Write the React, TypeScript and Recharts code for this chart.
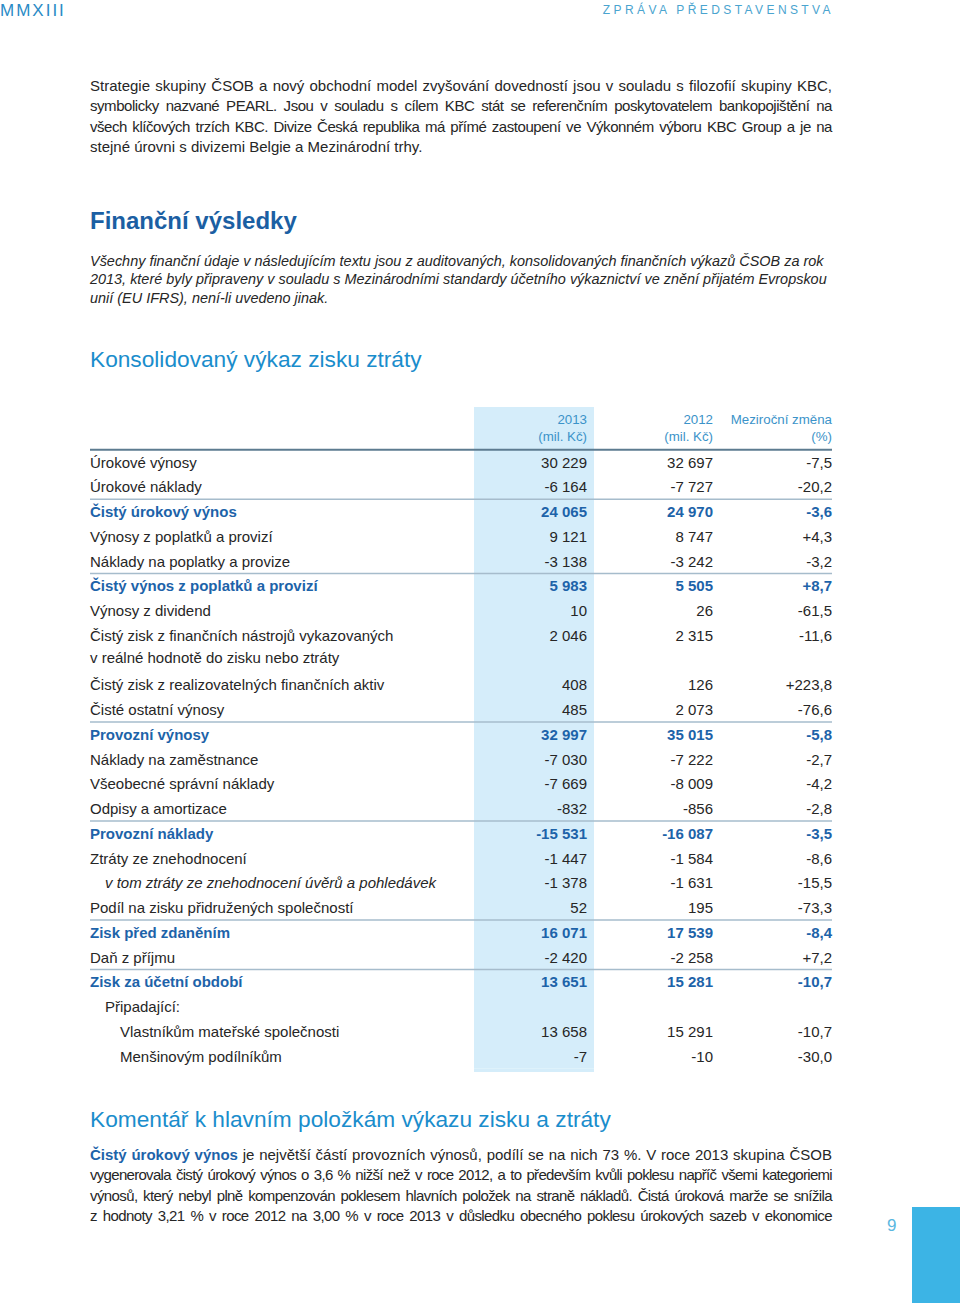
import React from 'react';
import { ComposedChart, XAxis, YAxis, CartesianGrid, Bar } from 'recharts';

// ---------- data ----------
const rowLabels = [
  'Úrokové výnosy',
  'Úrokové náklady',
  'Čistý úrokový výnos',
  'Výnosy z poplatků a provizí',
  'Náklady na poplatky a provize',
  'Čistý výnos z poplatků a provizí',
  'Výnosy z dividend',
  'Čistý zisk z finančních nástrojů vykazovaných',
  'v reálné hodnotě do zisku nebo ztráty',
  'Čistý zisk z realizovatelných finančních aktiv',
  'Čisté ostatní výnosy',
  'Provozní výnosy',
  'Náklady na zaměstnance',
  'Všeobecné správní náklady',
  'Odpisy a amortizace',
  'Provozní náklady',
  'Ztráty ze znehodnocení',
  'v tom ztráty ze znehodnocení úvěrů a pohledávek',
  'Podíl na zisku přidružených společností',
  'Zisk před zdaněním',
  'Daň z příjmu',
  'Zisk za účetní období',
  'Připadající:',
  'Vlastníkům mateřské společnosti',
  'Menšinovým podílníkům',
];
// n = normal, b = bold subtotal, c = continuation line, i = italic indented, p = indent 1, q = indent 2
const rowKinds = ['n','n','b','n','n','b','n','n','c','n','n','b','n','n','n','b','n','i','n','b','n','b','p','q','q'];
const values2013: (number | null)[] = [30229, -6164, 24065, 9121, -3138, 5983, 10, 2046, null, 408, 485, 32997, -7030, -7669, -832, -15531, -1447, -1378, 52, 16071, -2420, 13651, null, 13658, -7];
const values2012: (number | null)[] = [32697, -7727, 24970, 8747, -3242, 5505, 26, 2315, null, 126, 2073, 35015, -7222, -8009, -856, -16087, -1584, -1631, 195, 17539, -2258, 15281, null, 15291, -10];
const changes: (number | null)[] = [-7.5, -20.2, -3.6, 4.3, -3.2, 8.7, -61.5, -11.6, null, 223.8, -76.6, -5.8, -2.7, -4.2, -2.8, -3.5, -8.6, -15.5, -73.3, -8.4, 7.2, -10.7, null, -10.7, -30.0];

const columnYears = ['2013', '2012'];
const columnUnit = '(mil. Kč)';
const changeHeader = ['Meziroční změna', '(%)'];

const introLines = [
  'Strategie skupiny ČSOB a nový obchodní model zvyšování dovedností jsou v souladu s filozofií skupiny KBC,',
  'symbolicky nazvané PEARL. Jsou v souladu s cílem KBC stát se referenčním poskytovatelem bankopojištění na',
  'všech klíčových trzích KBC. Divize Česká republika má přímé zastoupení ve Výkonném výboru KBC Group a je na',
  'stejné úrovni s divizemi Belgie a Mezinárodní trhy.',
];
const noteLines = [
  'Všechny finanční údaje v následujícím textu jsou z auditovaných, konsolidovaných finančních výkazů ČSOB za rok',
  '2013, které byly připraveny v souladu s Mezinárodními standardy účetního výkaznictví ve znění přijatém Evropskou',
  'unií (EU IFRS), není-li uvedeno jinak.',
];
const commentLead = 'Čistý úrokový výnos';
const commentLines = [
  ' je největší částí provozních výnosů, podílí se na nich 73 %. V roce 2013 skupina ČSOB',
  'vygenerovala čistý úrokový výnos o 3,6 % nižší než v roce 2012, a to především kvůli poklesu napříč všemi kategoriemi',
  'výnosů, který nebyl plně kompenzován poklesem hlavních položek na straně nákladů. Čistá úroková marže se snížila',
  'z hodnoty 3,21 % v roce 2012 na 3,00 % v roce 2013 v důsledku obecného poklesu úrokových sazeb v ekonomice',
];

const tableData = rowLabels.map((label, i) => ({
  label,
  kind: rowKinds[i],
  v2013: values2013[i],
  v2012: values2012[i],
  change: changes[i],
  zero: 0,
}));

// ---------- formatting ----------
const fmtNum = (v: number | null) => {
  if (v === null) return '';
  const s = Math.abs(v).toString().replace(/\B(?=(\d{3})+(?!\d))/g, ' ');
  return (v < 0 ? '-' : '') + s;
};
const fmtChg = (v: number | null) => {
  if (v === null) return '';
  const s = Math.abs(v).toFixed(1).replace('.', ',');
  return (v < 0 ? '-' : '+') + s;
};

// ---------- styles ----------
const FONT = '"Liberation Sans", Arial, Helvetica, sans-serif';
const TEXT = '#262626';
const BOLD_BLUE = '#1d63a9';
const HEAD_BLUE = '#3b93c9';
const HIGHLIGHT = '#d5edfa';
const HALF_BAND = 12.375;
const X_LABEL = 90;
const X_COL_LEFT = 474;
const COL_W = 120;
const X_2013 = 587;
const X_2012 = 713;
const X_CHG = 832;
const X_END = 832;
const HIGHLIGHT_TOP = 407;
const HIGHLIGHT_BOTTOM = 1072;

const RowTick = (props: any) => {
  const { y: yRaw, payload } = props;
  const i = rowLabels.indexOf(payload.value);
  if (i < 0) return null;
  const kind = rowKinds[i];
  const y = kind === 'c' ? yRaw - 2.5 : yRaw;
  const bold = kind === 'b';
  const color = bold ? BOLD_BLUE : TEXT;
  const weight = bold ? 700 : 400;
  const indent = kind === 'i' || kind === 'p' ? 15 : kind === 'q' ? 30 : 0;
  const common = { fontFamily: FONT, fontSize: 15, fill: color, fontWeight: weight, dominantBaseline: 'central' as const };
  const head = { ...common, fill: HEAD_BLUE, fontWeight: 400, fontSize: 13.3, textAnchor: 'end' as const };
  const last = i === rowLabels.length - 1;
  return (
    <g>
      {i === 0 && (
        <g>
          <rect x={X_COL_LEFT} y={HIGHLIGHT_TOP} width={COL_W} height={y - HALF_BAND - HIGHLIGHT_TOP} fill={HIGHLIGHT} />
          <text x={X_2013} y={y - 43} {...head}>{columnYears[0]}</text>
          <text x={X_2013} y={y - 26} {...head}>{columnUnit}</text>
          <text x={X_2012} y={y - 43} {...head}>{columnYears[1]}</text>
          <text x={X_2012} y={y - 26} {...head}>{columnUnit}</text>
          <text x={X_CHG} y={y - 43} {...head}>{changeHeader[0]}</text>
          <text x={X_CHG} y={y - 26} {...head}>{changeHeader[1]}</text>
          <line x1={X_LABEL} x2={X_END} y1={y - HALF_BAND} y2={y - HALF_BAND} stroke="#5d7b90" strokeWidth={2} />
        </g>
      )}
      {last && (
        <rect x={X_COL_LEFT} y={y + HALF_BAND} width={COL_W} height={HIGHLIGHT_BOTTOM - y - HALF_BAND} fill={HIGHLIGHT} />
      )}
      {bold && (
        <line x1={X_LABEL} x2={X_END} y1={y - HALF_BAND} y2={y - HALF_BAND} stroke="#a6bccc" strokeWidth={1.5} />
      )}
      <text x={X_LABEL + indent} y={y} textAnchor="start" {...common} fontStyle={kind === 'i' ? 'italic' : 'normal'}>
        {payload.value}
      </text>
      <text x={X_2013} y={y} textAnchor="end" {...common}>{fmtNum(values2013[i])}</text>
      <text x={X_2012} y={y} textAnchor="end" {...common}>{fmtNum(values2012[i])}</text>
      <text x={X_CHG} y={y} textAnchor="end" {...common}>{fmtChg(changes[i])}</text>
    </g>
  );
};

const abs = (top: number, left: number, extra: React.CSSProperties = {}): React.CSSProperties => ({
  position: 'absolute', top, left, ...extra,
});

const introSpacing = [0, -0.45, -0.45, 0];
const commentSpacing = [0, -0.7, -0.6, -0.6];

export default function App() {
  return (
    <div style={{ position: 'absolute', top: 0, left: 0, width: 960, height: 1303, overflow: 'hidden', background: '#fff', fontFamily: FONT, color: TEXT }}>
      {/* page header */}
      <div style={abs(1, 0, { fontSize: 17, lineHeight: '19px', letterSpacing: 2, color: '#2a8bc6' })}>MMXIII</div>
      <div style={abs(3, 554, { width: 280, textAlign: 'right', fontSize: 12, lineHeight: '14px', letterSpacing: 3.4, color: '#4aa4cf' })}>ZPRÁVA PŘEDSTAVENSTVA</div>

      {/* intro paragraph */}
      <div style={abs(76, 90, { width: 742, fontSize: 15, lineHeight: '20.3px' })}>
        {introLines.map((l, i) => (
          <div key={i} style={{ textAlign: 'justify', textAlignLast: i < introLines.length - 1 ? 'justify' : 'left', letterSpacing: introSpacing[i] }}>{l}</div>
        ))}
      </div>

      <div style={abs(206, 90, { fontSize: 24, lineHeight: '30px', fontWeight: 700, color: '#1b5fa3' })}>Finanční výsledky</div>

      <div style={abs(251.5, 90, { width: 760, fontSize: 14.45, lineHeight: '18.7px', fontStyle: 'italic' })}>
        {noteLines.map((l, i) => (<div key={i} style={{ whiteSpace: 'nowrap' }}>{l}</div>))}
      </div>

      <div style={abs(344, 90, { fontSize: 22.7, lineHeight: '30px', color: '#1a8dcc' })}>Konsolidovaný výkaz zisku ztráty</div>

      {/* table */}
      <div style={abs(0, 0)}>
        <ComposedChart
          width={960}
          height={1303}
          layout="vertical"
          data={tableData}
          margin={{ top: 449.625, right: 366, bottom: 234.625, left: 473 }}
        >
          <CartesianGrid horizontal={false} vertical={false} fill={HIGHLIGHT} stroke="none" />
          <XAxis type="number" hide domain={[0, 1]} />
          <YAxis
            type="category"
            dataKey="label"
            width={1}
            axisLine={false}
            tickLine={false}
            interval={0}
            tick={(p: any) => <RowTick {...p} />}
          />
          <Bar dataKey="zero" fill="none" isAnimationActive={false} />
        </ComposedChart>
      </div>

      <div style={abs(1104, 90, { fontSize: 22.7, lineHeight: '30px', color: '#1a8dcc' })}>Komentář k hlavním položkám výkazu zisku a ztráty</div>

      <div style={abs(1145, 90, { width: 742, fontSize: 15, lineHeight: '20.3px' })}>
        {commentLines.map((l, i) => (
          <div key={i} style={{ textAlign: 'justify', textAlignLast: 'justify', letterSpacing: commentSpacing[i] }}>
            {i === 0 && <span style={{ fontWeight: 700, color: BOLD_BLUE }}>{commentLead}</span>}
            {l}
          </div>
        ))}
      </div>

      {/* page number */}
      <div style={abs(1216, 887, { fontSize: 17, lineHeight: '20px', color: '#5bb7e0' })}>9</div>
      <div style={abs(1207, 912, { width: 48, height: 96, background: '#3cb4e5' })} />
    </div>
  );
}
